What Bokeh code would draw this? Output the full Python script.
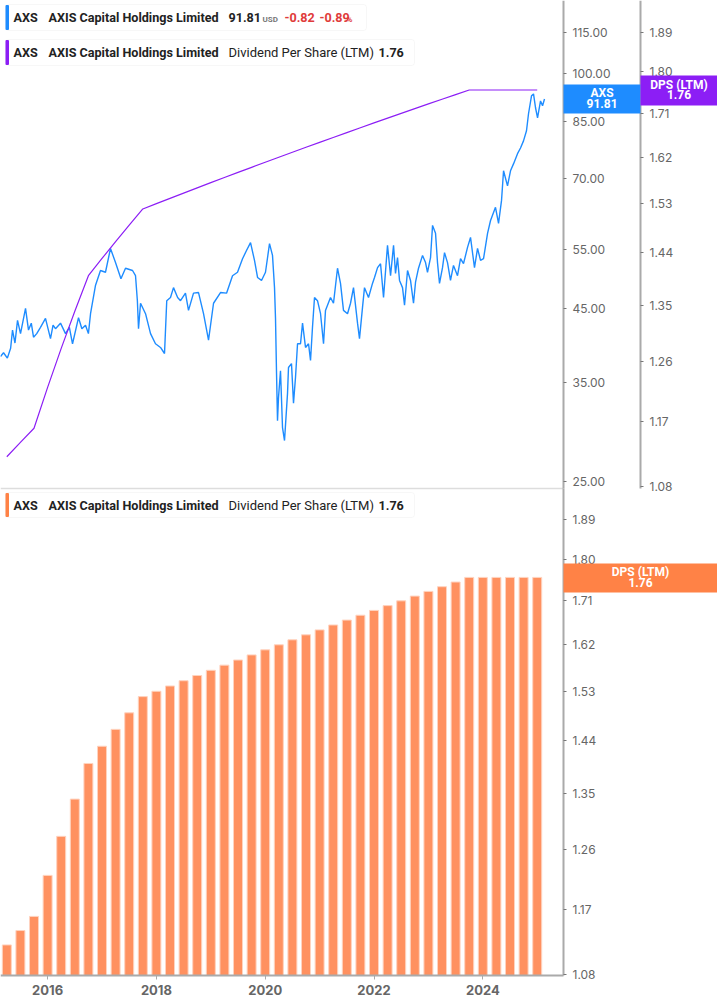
from bokeh.plotting import figure
from bokeh.models import (Range1d, LinearScale, LogScale, LogAxis, LinearAxis, FixedTicker,
                          NumeralTickFormatter, Label, BoxAnnotation)
from bokeh.core.properties import value
from bokeh.embed import file_html
from bokeh.resources import INLINE

# ---------------- data ----------------
price_t = [2015.134, 2015.19, 2015.26, 2015.32, 2015.355, 2015.40, 2015.447, 2015.502, 2015.594, 2015.649,
           2015.70, 2015.741, 2015.80, 2015.869, 2015.961, 2016.053, 2016.10, 2016.145, 2016.237, 2016.329,
           2016.40, 2016.458, 2016.568, 2016.63, 2016.697, 2016.75, 2016.789, 2016.881, 2016.972, 2017.064,
           2017.156, 2017.248, 2017.348, 2017.432, 2017.561, 2017.616, 2017.65, 2017.671, 2017.708, 2017.800,
           2017.892, 2017.983, 2018.075, 2018.149, 2018.19, 2018.259, 2018.314, 2018.39, 2018.443, 2018.534,
           2018.590, 2018.682, 2018.774, 2018.866, 2018.958, 2019.050, 2019.178, 2019.289, 2019.399, 2019.491,
           2019.583, 2019.656, 2019.730, 2019.803, 2019.859, 2019.932, 2020.005, 2020.079, 2020.134, 2020.171,
           2020.189, 2020.208, 2020.226, 2020.244, 2020.281, 2020.318, 2020.355, 2020.410, 2020.428, 2020.483,
           2020.520, 2020.557, 2020.594, 2020.649, 2020.686, 2020.741, 2020.796, 2020.833, 2020.869, 2020.906,
           2020.961, 2021.017, 2021.072, 2021.108, 2021.200, 2021.255, 2021.329, 2021.384, 2021.439, 2021.513,
           2021.568, 2021.623, 2021.697, 2021.733, 2021.789, 2021.825, 2021.899, 2021.972, 2022.009, 2022.065,
           2022.120, 2022.175, 2022.248, 2022.304, 2022.359, 2022.395, 2022.432, 2022.469, 2022.524, 2022.561,
           2022.616, 2022.671, 2022.726, 2022.763, 2022.818, 2022.892, 2022.947, 2022.983, 2023.039, 2023.076,
           2023.131, 2023.167, 2023.204, 2023.259, 2023.296, 2023.351, 2023.406, 2023.461, 2023.535, 2023.590,
           2023.645, 2023.719, 2023.774, 2023.847, 2023.903, 2023.958, 2024.013, 2024.087, 2024.142, 2024.233,
           2024.289, 2024.344, 2024.381, 2024.454, 2024.509, 2024.564, 2024.638, 2024.693, 2024.748, 2024.803,
           2024.840, 2024.895, 2024.932, 2024.969, 2025.006, 2025.061, 2025.098, 2025.134]
price_v = [38.2, 38.7, 38.0, 39.3, 41.8, 40.0, 43.2, 41.3, 45.0, 41.8,
           42.8, 40.8, 41.3, 42.2, 43.5, 40.6, 42.5, 42.0, 42.8, 41.3,
           42.2, 39.9, 43.6, 42.0, 42.5, 41.3, 44.2, 48.7, 51.2, 50.9,
           55.2, 52.6, 49.8, 51.6, 51.2, 50.3, 46.2, 42.0, 45.8, 44.2,
           41.3, 39.9, 39.4, 38.6, 46.2, 46.7, 48.3, 46.7, 46.2, 47.4,
           44.7, 47.4, 47.5, 44.2, 40.4, 45.8, 47.5, 47.4, 50.3, 50.9,
           53.3, 54.8, 56.3, 53.0, 50.0, 49.5, 50.9, 56.1, 53.9, 48.3,
           43.6, 36.1, 30.7, 33.2, 36.4, 30.0, 28.7, 33.7, 36.8, 37.3,
           32.6, 35.6, 39.9, 39.9, 42.8, 39.4, 39.9, 37.7, 42.2, 46.7,
           46.2, 44.2, 39.9, 44.7, 46.7, 45.8, 51.6, 49.0, 44.7, 44.2,
           45.8, 48.3, 42.8, 40.6, 45.2, 48.3, 46.7, 49.0, 50.0, 51.7,
           52.4, 46.7, 55.8, 50.3, 55.8, 50.7, 53.5, 49.5, 48.3, 45.5,
           51.2, 49.5, 45.8, 49.2, 51.6, 53.9, 52.6, 50.9, 53.5, 59.7,
           58.1, 52.6, 49.0, 51.7, 54.4, 52.6, 49.5, 52.1, 50.3, 53.3,
           52.4, 55.4, 57.3, 51.7, 55.2, 53.0, 53.3, 58.1, 60.7, 63.5,
           60.1, 65.0, 71.9, 68.3, 71.9, 73.6, 76.2, 77.7, 79.6, 82.4,
           87.3, 92.8, 93.4, 89.1, 86.1, 91.2, 89.7, 91.81]

dps_t = [2015.25, 2015.50, 2015.75, 2016.00, 2016.25, 2016.50, 2016.75, 2017.00,
         2017.25, 2017.50, 2017.75, 2018.00, 2018.25, 2018.50, 2018.75, 2019.00,
         2019.25, 2019.50, 2019.75, 2020.00, 2020.25, 2020.50, 2020.75, 2021.00,
         2021.25, 2021.50, 2021.75, 2022.00, 2022.25, 2022.50, 2022.75, 2023.00,
         2023.25, 2023.50, 2023.75, 2024.00, 2024.25, 2024.50, 2024.75, 2025.00]
dps_v = [1.12, 1.14, 1.16, 1.22, 1.28, 1.34, 1.40, 1.43, 1.46, 1.49,
         1.52, 1.53, 1.54, 1.55, 1.56, 1.57, 1.58, 1.59, 1.60, 1.61,
         1.62, 1.63, 1.64, 1.65, 1.66, 1.67, 1.68, 1.69, 1.70, 1.71,
         1.72, 1.73, 1.74, 1.75, 1.76, 1.76, 1.76, 1.76, 1.76, 1.76]

price_ticks = [25, 35, 45, 55, 70, 85, 100, 115]
dps_ticks = [1.08, 1.17, 1.26, 1.35, 1.44, 1.53, 1.62, 1.71, 1.80, 1.89]
year_ticks = [2016, 2018, 2020, 2022, 2024]

last_price = 91.81
last_dps = 1.76

# ---------------- layout constants (pixels of the 717 x 1005 frame) ----------------
W, H = 717, 1005
X0, X1 = 2015.134, 2028.314          # time span across the full frame width
AX1_PX, AX2_PX = 563, 640             # x of price/DPS axes
SPLIT = 488                           # panel split
PRICE_R = (4.195, 128.36)             # price scale, top panel (ticks land at 32..481 px)
DPS_R = (0.5695, 1.9652)              # DPS scale, top panel
DPS2_R = (1.0396, 3.578)              # DPS scale, bottom panel
PRICE_AT_XAXIS = 4.648                # where the time axis sits (975 px)
BAR_BASE = 1.0787                     # bottom of the bar panel
PRICE_BOUNDS = (24.38, 128.36)
DPS_BOUNDS = (1.0773, 1.9652)
DPS2_BOUNDS = (1.0787, 1.963)


def px_to_year(px):
    return X0 + (X1 - X0) * px / W


BLUE = "#1e8cff"
PURPLE = "#8c1ef5"
ORANGE = "#ff8246"
BAR = "#ff9160"
AX = "#aaaaaa"
TXT = "#666666"
TICK_FONT = "Inter"
LEG_FONT = "Roboto"

p = figure(frame_width=W, frame_height=H, output_backend="svg", toolbar_location=None,
           x_range=Range1d(X0, X1), y_range=Range1d(*PRICE_R), y_axis_type="log",
           y_axis_location=None, x_axis_location=None, min_border=0,
           outline_line_color=None, background_fill_color="white", border_fill_color="white")
p.extra_y_ranges = {"dps": Range1d(*DPS_R), "dps2": Range1d(*DPS2_R), "px": Range1d(H, 0)}
p.extra_y_scales = {"dps": LogScale(), "dps2": LogScale(), "px": LinearScale()}
p.extra_x_ranges = {"px": Range1d(0, W)}
p.extra_x_scales = {"px": LinearScale()}
p.grid.visible = False

# separator between the panels
p.segment(x0=[0], y0=[SPLIT], x1=[AX1_PX], y1=[SPLIT], x_range_name="px", y_range_name="px",
          line_color="#dddddd", line_width=1.5)

# marks
p.vbar(x=dps_t, top=dps_v, bottom=BAR_BASE, width=0.165, y_range_name="dps2",
       fill_color=BAR, fill_alpha=1, line_color="#ffd3bf", line_width=1)
p.line(price_t, price_v, line_color=BLUE, line_width=1.4)
p.line(dps_t, dps_v, y_range_name="dps", line_color=PURPLE, line_width=1.2)


def style_axis(ax):
    ax.axis_line_color = AX
    ax.axis_line_width = 2
    ax.major_tick_line_color = "#777777"
    ax.major_tick_out = 3
    ax.major_tick_in = 0
    ax.minor_tick_line_color = None
    ax.major_label_text_color = TXT
    ax.major_label_text_font_size = "12px"
    ax.major_label_text_font = TICK_FONT
    ax.major_label_standoff = 6


pax = LogAxis(ticker=FixedTicker(ticks=price_ticks), formatter=NumeralTickFormatter(format="0.00"),
              fixed_location=px_to_year(AX1_PX), bounds=PRICE_BOUNDS)
style_axis(pax)
p.add_layout(pax, "right")

dax = LogAxis(y_range_name="dps", ticker=FixedTicker(ticks=dps_ticks),
              formatter=NumeralTickFormatter(format="0.00"),
              fixed_location=px_to_year(AX2_PX), bounds=DPS_BOUNDS)
style_axis(dax)
p.add_layout(dax, "right")

bax = LogAxis(y_range_name="dps2", ticker=FixedTicker(ticks=dps_ticks),
              formatter=NumeralTickFormatter(format="0.00"),
              fixed_location=px_to_year(AX1_PX), bounds=DPS2_BOUNDS)
style_axis(bax)
p.add_layout(bax, "right")

xa = LinearAxis(ticker=FixedTicker(ticks=year_ticks), formatter=NumeralTickFormatter(format="0"),
                fixed_location=PRICE_AT_XAXIS, bounds=(X0, px_to_year(AX1_PX)))
xa.axis_line_color = AX
xa.axis_line_width = 2
xa.major_tick_line_color = AX
xa.major_tick_out = 4
xa.major_tick_in = 0
xa.minor_tick_line_color = None
xa.major_label_text_color = TXT
xa.major_label_text_font_size = "13px"
xa.major_label_text_font_style = "bold"
xa.major_label_text_font = TICK_FONT
xa.major_label_standoff = 6
p.add_layout(xa, "below")


def legend(y0, y1, color, pieces, right):
    p.add_layout(BoxAnnotation(left=5, right=right, top=y0, bottom=y1, x_range_name="px", y_range_name="px",
                               fill_color="white", fill_alpha=1, line_color="#e4e4e4", line_width=1,
                               border_radius=3, level="underlay"))
    p.add_layout(BoxAnnotation(left=5, right=8.5, top=y0 + 0.5, bottom=y1 - 0.5, x_range_name="px",
                               y_range_name="px", fill_color=color, fill_alpha=1, line_color=None,
                               border_radius=1, level="underlay"))
    yc = (y0 + y1) / 2
    for (x, txt, size, style, col, dy) in pieces:
        p.text(x=[x], y=[yc + dy], text=[txt], x_range_name="px", y_range_name="px",
               text_font=value(LEG_FONT), text_font_size=size, text_font_style=style,
               text_color=col, text_baseline="middle", text_align="left")


def badge(left, right, top, bottom, color, lines, yname, yval):
    p.add_layout(BoxAnnotation(left=left, right=right, top=top, bottom=bottom, x_range_name="px",
                               y_range_name="px", fill_color=color, fill_alpha=1, line_color=None,
                               level="overlay"))
    for txt, off in lines:
        p.add_layout(Label(x=(left + right) / 2, y=yval, x_range_name="px", y_range_name=yname,
                           y_offset=off, text=txt, text_align="center", text_baseline="middle",
                           text_color="white", text_font=LEG_FONT, text_font_style="bold",
                           text_font_size="12px", level="overlay"))


DARK = "#222222"
RED = "#e03b3b"
LS = "12.6px"
legend(4, 30, BLUE, [
    (13, "AXS", LS, "bold", DARK, 0),
    (48, "AXIS Capital Holdings Limited", LS, "bold", DARK, 0),
    (228, "91.81", LS, "bold", DARK, 0),
    (262, "USD", "8px", "bold", "#777777", 2),
    (284, "-0.82", LS, "bold", RED, 0),
    (319, "-0.89", LS, "bold", RED, 0),
    (346, "%", "8px", "bold", RED, 2),
], 366)
legend(39, 65, PURPLE, [
    (13, "AXS", LS, "bold", DARK, 0),
    (48, "AXIS Capital Holdings Limited", LS, "bold", DARK, 0),
    (228, "Dividend Per Share (LTM)", "13px", "normal", DARK, 0),
    (378, "1.76", LS, "bold", DARK, 0),
], 414)
legend(492, 517, ORANGE, [
    (13, "AXS", LS, "bold", DARK, 0),
    (48, "AXIS Capital Holdings Limited", LS, "bold", DARK, 0),
    (228, "Dividend Per Share (LTM)", "13px", "normal", DARK, 0),
    (378, "1.76", LS, "bold", DARK, 0),
], 414)

badge(AX1_PX, AX2_PX, 84, 113, BLUE, [("AXS", 6), ("91.81", -5)], "default", last_price)
badge(AX2_PX, W, 75, 105, PURPLE, [("DPS (LTM)", 5), ("1.76", -5)], "dps", last_dps)
badge(AX1_PX, W, 563, 592, ORANGE, [("DPS (LTM)", 5), ("1.76", -5)], "dps2", last_dps)

open("out.html", "w").write(file_html(p, INLINE))
